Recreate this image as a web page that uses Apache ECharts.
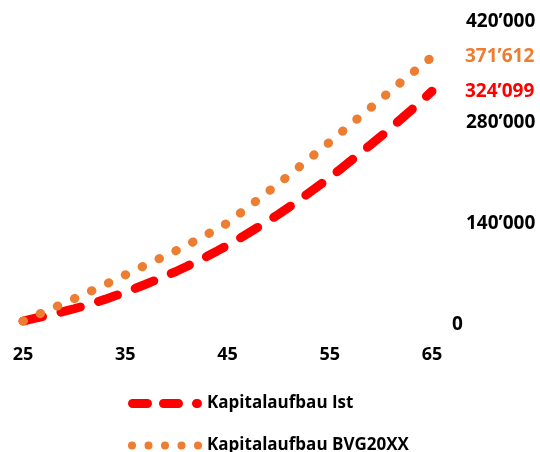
<!DOCTYPE html>
<html>
<head>
<meta charset="utf-8">
<title>Kapitalaufbau</title>
<script src="https://cdn.jsdelivr.net/npm/echarts@6/dist/echarts.min.js"></script>
<style>
  html, body { margin: 0; padding: 0; background: #fff; }
  #chart { width: 540px; height: 452px; }
</style>
</head>
<body>
<div id="chart"></div>
<script>
// Alter 25 .. 65
const ages = [25, 26, 27, 28, 29, 30, 31, 32, 33, 34, 35, 36, 37, 38, 39, 40, 41, 42, 43, 44, 45,
  46, 47, 48, 49, 50, 51, 52, 53, 54, 55, 56, 57, 58, 59, 60, 61, 62, 63, 64, 65];

// Kapitalaufbau Ist
const istValues = [5500, 8700, 12000, 15300, 18800, 22500, 26600, 30900, 35500, 40400, 45500,
  50900, 56500, 62300, 68300, 74500, 81100, 88000, 95200, 102700, 110500,
  118600, 127000, 135700, 144500, 153500, 163200, 173200, 183400, 193800, 204500,
  215600, 226900, 238300, 249900, 261500, 273600, 285900, 298300, 311100, 324099];

// Kapitalaufbau BVG20XX
const bvgValues = [5500, 11500, 17800, 24000, 30200, 36500, 42800, 49300, 55900, 62600, 69500,
  76300, 83000, 89700, 96500, 103300, 110500, 118000, 125500, 133300, 141400,
  152500, 163000, 174000, 185000, 196000, 207500, 219000, 230500, 242000, 253600,
  265500, 277500, 289500, 301000, 313000, 325000, 337000, 348500, 360000, 371612];

const seriesNames = ['Kapitalaufbau Ist', 'Kapitalaufbau BVG20XX'];
const yTicks = [0, 140000, 280000, 420000];
const xTicks = [25, 35, 45, 55, 65];

const FONT = '"Open Sans", sans-serif';
const RED = '#ff0000';
const ORANGE = '#ed7d31';

// Tausendertrennzeichen ’
const fmt = (v) => String(Math.round(v)).replace(/\B(?=(\d{3})+(?!\d))/g, '\u2019');

// Legenden-Icons: zwei Striche + Punkt / fünf Punkte
const capsule = (x0, x1) =>
  `M${x0 + 4.5} 0H${x1 - 4.5}A4.5 4.5 0 0 1 ${x1 - 4.5} 9H${x0 + 4.5}A4.5 4.5 0 0 1 ${x0 + 4.5} 0Z`;
const dot = (cx) => `M${cx - 4} 4.5A4 4 0 1 0 ${cx + 4} 4.5A4 4 0 1 0 ${cx - 4} 4.5Z`;
const dashIcon = 'path://' + capsule(0, 24) + capsule(31, 55) + capsule(64, 74);
const dotIcon = 'path://' + [4, 20.5, 37, 53.5, 70].map(dot).join('');

const legendBase = {
  orient: 'vertical',
  left: 128,
  padding: 0,
  itemWidth: 74,
  itemHeight: 9,
  itemGap: 0,
  itemStyle: { borderWidth: 0 },
  textStyle: {
    fontFamily: FONT,
    fontWeight: 'bold',
    fontSize: 17,
    color: '#000'
  }
};

const myChart = echarts.init(document.getElementById('chart'));

let option = {
  animation: false,
  grid: {
    left: 23,
    right: 108,
    top: 22,
    bottom: 127
  },
  legend: [
    Object.assign({}, legendBase, {
      top: 395,
      data: [{ name: seriesNames[0], icon: dashIcon }]
    }),
    Object.assign({}, legendBase, {
      top: 437,
      data: [{ name: seriesNames[1], icon: dotIcon }]
    })
  ],
  xAxis: {
    type: 'value',
    min: xTicks[0],
    max: xTicks[xTicks.length - 1],
    interval: 10,
    axisLine: { show: false },
    axisTick: { show: false },
    splitLine: { show: false },
    axisLabel: {
      margin: 21,
      fontFamily: FONT,
      fontWeight: 'bold',
      fontSize: 18,
      color: '#000'
    }
  },
  yAxis: {
    type: 'value',
    position: 'right',
    min: yTicks[0],
    max: yTicks[yTicks.length - 1],
    interval: 140000,
    axisLine: { show: false },
    axisTick: { show: false },
    splitLine: { show: false },
    axisLabel: {
      margin: 20,
      align: 'left',
      fontFamily: FONT,
      fontWeight: 'bold',
      fontSize: 19,
      color: '#000',
      formatter: (v) => (v === 0 ? '{z|0}' : '{n|' + fmt(v) + '}'),
      rich: {
        z: { fontFamily: FONT, fontWeight: 'bold', fontSize: 19, color: '#000' },
        n: { fontFamily: FONT, fontWeight: 'bold', fontSize: 19, color: '#000', padding: [0, 0, 0, 14] }
      }
    }
  },
  series: [
    {
      name: seriesNames[0],
      type: 'line',
      symbol: 'none',
      data: ages.map((a, i) => [a, istValues[i]]),
      lineStyle: {
        color: RED,
        width: 9,
        type: [20, 19],
        cap: 'round'
      },
      itemStyle: { color: RED },
      endLabel: {
        show: true,
        distance: 33,
        formatter: (p) => fmt(p.value[1]),
        fontFamily: FONT,
        fontWeight: 'bold',
        fontSize: 19,
        color: RED
      },
      z: 2
    },
    {
      name: seriesNames[1],
      type: 'line',
      symbol: 'none',
      data: ages.map((a, i) => [a, bvgValues[i]]),
      lineStyle: {
        color: ORANGE,
        width: 9,
        type: [0.5, 18.2],
        cap: 'round'
      },
      itemStyle: { color: ORANGE },
      endLabel: {
        show: true,
        distance: 33,
        formatter: (p) => fmt(p.value[1]),
        fontFamily: FONT,
        fontWeight: 'bold',
        fontSize: 19,
        color: ORANGE
      },
      z: 3
    }
  ]
};

option && myChart.setOption(option);
</script>
</body>
</html>
